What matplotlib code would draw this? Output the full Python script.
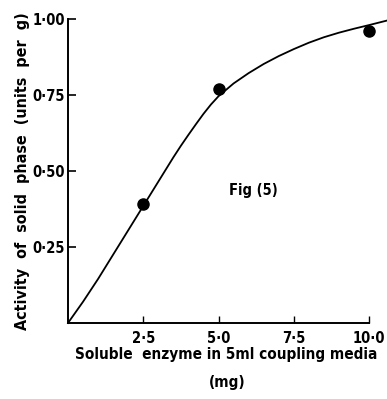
import matplotlib
matplotlib.use("Agg")
import matplotlib.pyplot as plt

# measured points (mg soluble enzyme vs activity of solid phase)
enzyme_mg = [2.5, 5.0, 10.0]
activity = [0.39, 0.77, 0.96]

# hand-drawn fitted curve
curve_x = [0.0, 0.5, 1.0, 1.5, 2.0, 2.5, 3.0, 3.5, 3.75, 4.0, 4.25, 4.5, 4.75,
           5.0, 5.5, 6.0, 6.5, 7.0, 7.5, 8.0, 8.5, 9.0, 9.5, 10.0, 10.6]
curve_y = [0.0, 0.07, 0.145, 0.225, 0.305, 0.385, 0.465, 0.545, 0.583, 0.619,
           0.654, 0.688, 0.719, 0.746, 0.788, 0.822, 0.852, 0.878, 0.901,
           0.922, 0.94, 0.955, 0.968, 0.98, 0.995]

xticks = [2.5, 5.0, 7.5, 10.0]
xtick_labels = ["2·5", "5·0", "7·5", "10·0"]
yticks = [0.25, 0.50, 0.75, 1.00]
ytick_labels = ["0·25", "0·50", "0·75", "1·00"]

font = {"family": "DejaVu Sans", "stretch": "condensed", "weight": "bold"}

fig = plt.figure(figsize=(3.87, 3.99), dpi=100)
ax = fig.add_axes([0.1757, 0.1905, 0.778, 0.7619])

ax.plot(curve_x, curve_y, color="black", lw=1.3, clip_on=False)
ax.plot(enzyme_mg, activity, "o", color="black", ms=8, clip_on=False)

ax.set_xlim(0, 10.0)
ax.set_ylim(0, 1.0)

for side in ["top", "right"]:
    ax.spines[side].set_visible(False)
for side in ["left", "bottom"]:
    ax.spines[side].set_linewidth(1.4)

ax.set_xticks(xticks)
ax.set_xticklabels(xtick_labels, fontdict=font, fontsize=10.5)
ax.set_yticks(yticks)
ax.set_yticklabels(ytick_labels, fontdict=font, fontsize=10.5)
ax.tick_params(axis="x", direction="in", length=5, width=1, pad=6)
ax.tick_params(axis="y", direction="in", length=6, width=1.2, pad=2)

# x label drawn as two centred lines
fig.text(226.5 / 387, 1 - 354 / 399, "Soluble  enzyme in 5ml coupling media",
         fontdict=font, fontsize=11, ha="center", va="center")
fig.text(227 / 387, 1 - 382 / 399, "(mg)",
         fontdict=font, fontsize=11, ha="center", va="center")

ax.set_ylabel("Activity  of  solid  phase  (units  per  g)", fontdict=font, fontsize=11.5)
ax.yaxis.set_label_coords(-0.125, 0.5)

ax.text(6.15, 0.436, "Fig (5)", fontdict=font, fontsize=10.5,
        ha="center", va="center")

fig.savefig("out.png", dpi=100)
